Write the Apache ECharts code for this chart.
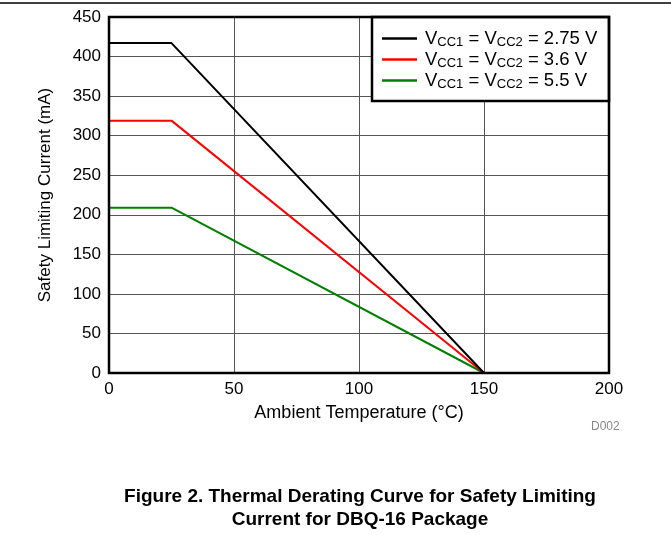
<!DOCTYPE html>
<html><head><meta charset="utf-8">
<script src="https://cdn.jsdelivr.net/npm/echarts@6/dist/echarts.min.js"></script>
<style>html,body{margin:0;padding:0;background:#fff}#c{width:671px;height:535px}</style>
</head><body><div id="c"></div>
<script>
const seriesNames = ['VCC1 = VCC2 = 2.75 V', 'VCC1 = VCC2 = 3.6 V', 'VCC1 = VCC2 = 5.5 V'];
const seriesColors = ['#000000', '#ff0000', '#008000'];
const temps = [0, 25, 150];
const current275 = [417, 417, 0];
const current36 = [319, 319, 0];
const current55 = [209, 209, 0];
const xTicks = [0, 50, 100, 150, 200];
const yTicks = [0, 50, 100, 150, 200, 250, 300, 350, 400, 450];
const allValues = [current275, current36, current55];

const F = 'Liberation Sans, Arial, sans-serif';
const chart = echarts.init(document.getElementById('c'), null, {renderer: 'canvas'});
const series = seriesNames.map((n, i) => ({
  name: n, type: 'line', showSymbol: false, symbol: 'none',
  data: temps.map((t, k) => [t, allValues[i][k]]),
  lineStyle: {color: seriesColors[i], width: 2},
  itemStyle: {color: seriesColors[i]}, z: 5 - i, animation: false
}));
chart.setOption({
  animation: false,
  grid: {left: 109, right: 62, top: 17, bottom: 162},
  xAxis: {
    type: 'value', min: xTicks[0], max: xTicks[xTicks.length - 1], interval: 50,
    name: 'Ambient Temperature (°C)', nameLocation: 'middle', nameGap: 31,
    nameTextStyle: {fontFamily: F, fontSize: 18, color: '#000'},
    axisLine: {show: false}, axisTick: {show: false},
    axisLabel: {fontFamily: F, fontSize: 17, color: '#000', margin: 8},
    splitLine: {show: true, lineStyle: {color: '#555', width: 1}}
  },
  yAxis: {
    type: 'value', min: yTicks[0], max: yTicks[yTicks.length - 1], interval: 50,
    name: 'Safety Limiting Current (mA)', nameLocation: 'middle', nameGap: 55,
    nameTextStyle: {fontFamily: F, fontSize: 17, color: '#000'},
    axisLine: {show: false}, axisTick: {show: false},
    axisLabel: {fontFamily: F, fontSize: 17, color: '#000', margin: 8},
    splitLine: {show: true, lineStyle: {color: '#555', width: 1}}
  },
  legend: {
    orient: 'vertical', left: 382, top: 29, padding: 0, itemGap: 1.5, itemWidth: 35, itemHeight: 14,
    icon: 'path://M0,6 L35,6 L35,8.5 L0,8.5 Z',
    data: seriesNames.map((n, i) => ({name: n, itemStyle: {color: seriesColors[i]}})),
    selectedMode: false,
    formatter: function (name) {
      const m = name.match(/^VCC1 = VCC2 = (.*)$/);
      return '{p|}{m|V}{s|CC1}{m| = V}{s|CC2}{m| = ' + m[1] + '}';
    },
    textStyle: {
      fontFamily: F, fontSize: 18.5, color: '#000',
      rich: {
        p: {width: 3, lineHeight: 20},
        m: {fontFamily: F, fontSize: 18.5, color: '#000', lineHeight: 20, verticalAlign: 'bottom'},
        s: {fontFamily: F, fontSize: 13, color: '#000', lineHeight: 20, verticalAlign: 'bottom', padding: [4, 0, 0, 0]}
      }
    },
    z: 10
  },
  graphic: [
    {type: 'line', shape: {x1: 0, y1: 3, x2: 671, y2: 3}, style: {stroke: '#000', lineWidth: 1.5}, z: 20},
    {type: 'rect', shape: {x: 109, y: 17, width: 500, height: 356}, style: {fill: 'none', stroke: '#000', lineWidth: 2.5}, z: 20},
    {type: 'rect', shape: {x: 372, y: 17, width: 237, height: 84}, style: {fill: '#fff', stroke: '#000', lineWidth: 2.5}, z: 3},
    {type: 'text', x: 591, y: 427, style: {text: 'D002', fontFamily: F, fontSize: 12, fill: '#888', verticalAlign: 'middle'}, z: 20},
    {type: 'text', x: 360, y: 497, style: {text: 'Figure 2. Thermal Derating Curve for Safety Limiting', fontFamily: F, fontSize: 19, fontWeight: 'bold', fill: '#000', align: 'center', verticalAlign: 'middle'}, z: 20},
    {type: 'text', x: 360, y: 520, style: {text: 'Current for DBQ-16 Package', fontFamily: F, fontSize: 19, fontWeight: 'bold', fill: '#000', align: 'center', verticalAlign: 'middle'}, z: 20}
  ],
  series: series
});
</script></body></html>
